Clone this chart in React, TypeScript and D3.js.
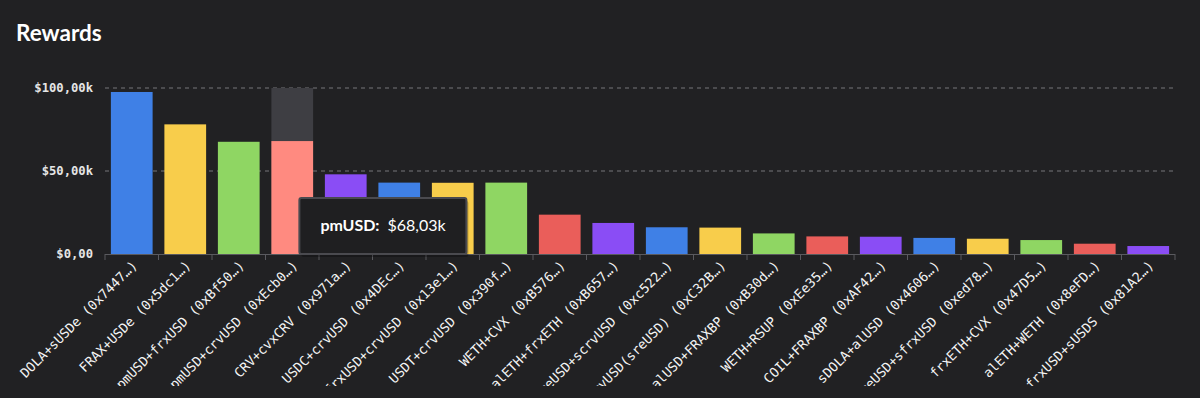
import React from "react";
import * as d3 from "d3";

const categories = [
  "DOLA+sUSDe (0x7447…)",
  "FRAX+USDe (0x5dc1…)",
  "pmUSD+frxUSD (0xBf50…)",
  "pmUSD+crvUSD (0xEcb0…)",
  "CRV+cvxCRV (0x971a…)",
  "USDC+crvUSD (0x4DEc…)",
  "frxUSD+crvUSD (0x13e1…)",
  "USDT+crvUSD (0x390f…)",
  "WETH+CVX (0xB576…)",
  "alETH+frxETH (0xB657…)",
  "reUSD+scrvUSD (0xc522…)",
  "crvUSD(sreUSD) (0xC32B…)",
  "alUSD+FRAXBP (0xB30d…)",
  "WETH+RSUP (0xEe35…)",
  "COIL+FRAXBP (0xAF42…)",
  "sDOLA+alUSD (0x4606…)",
  "reUSD+sfrxUSD (0xed78…)",
  "frxETH+CVX (0x47D5…)",
  "alETH+WETH (0x8eFD…)",
  "frxUSD+sUSDS (0x81A2…)",
];

const rewards = [
  97600, 78100, 67600, 68030, 48000, 43000, 42900, 43000, 23700, 18700,
  16100, 15900, 12400, 10600, 10400, 9700, 9200, 8400, 6200, 4800,
];

const yTicks = [0, 50000, 100000];
const yTickLabels = ["$0,00", "$50,00k", "$100,00k"];

const palette = ["#3f80e6", "#f8cd4b", "#8fd663", "#ea5e5a", "#8a4df5"];
const hoveredIndex = 3;
const hoverColor = "#ff8a80";
const tooltipName = "pmUSD";
const tooltipValue = "$68,03k";

export default function App() {
  const W = 1200;
  const H = 398;
  const chartH = 386;
  const left = 105;
  const right = 1175;
  const top = 88;
  const bottom = 254;

  const x = d3.scaleBand<string>().domain(categories).range([left, right]).paddingInner(0.22).paddingOuter(0.11);
  const y = d3.scaleLinear().domain([0, 100000]).range([bottom, top]);
  const boundaries = d3.range(categories.length + 1).map((i) => left + i * ((right - left) / categories.length));

  const hx = x(categories[hoveredIndex])!;
  const tipX = hx + 28;
  const tipY = 198;

  return (
    <svg
      width={W}
      height={H}
      style={{ position: "fixed", left: 0, top: 0, background: "#212123", display: "block" }}
    >
      <defs>
        <clipPath id="chartClip">
          <rect x={0} y={0} width={W} height={chartH} />
        </clipPath>
      </defs>
      <rect x={0} y={0} width={W} height={H} fill="#212123" />
      <text x={16} y={41} fill="#ffffff" fontFamily="Lato, 'Open Sans', sans-serif" fontWeight={700} fontSize={22.5}>
        Rewards
      </text>

      {yTicks.map((t, i) => (
        <g key={t}>
          {t > 0 && (
            <line x1={left} x2={right} y1={y(t)} y2={y(t)} stroke="#77777b" strokeDasharray="4,4" strokeWidth={1} />
          )}
          <text
            x={93}
            y={y(t)}
            dy="0.35em"
            textAnchor="end"
            fill="#e6e6e6"
            fontFamily="'DejaVu Sans Mono', monospace"
            fontSize={12.2}
            fontWeight={700}
          >
            {yTickLabels[i]}
          </text>
        </g>
      ))}

      <rect x={hx} y={y(100000)} width={x.bandwidth()} height={bottom - y(100000)} fill="#3e3e43" />

      {categories.map((c, i) => (
        <rect
          key={c}
          x={x(c)}
          y={y(rewards[i])}
          width={x.bandwidth()}
          height={bottom - y(rewards[i])}
          fill={i === hoveredIndex ? hoverColor : palette[i % palette.length]}
        />
      ))}

      <line x1={left} x2={right} y1={bottom + 0.5} y2={bottom + 0.5} stroke="#5a5a5f" strokeWidth={1} />
      {boundaries.map((b, i) => (
        <line key={i} x1={b} x2={b} y1={bottom} y2={bottom + 6} stroke="#5a5a5f" strokeWidth={1} />
      ))}

      <g clipPath="url(#chartClip)">
        {categories.map((c) => {
          const cx = x(c)! + x.bandwidth() / 2 + 3;
          const cy = bottom + 9;
          return (
            <text
              key={c}
              transform={`translate(${cx},${cy}) rotate(-45)`}
              textAnchor="end"
              dy="0.35em"
              fill="#f4f4f4"
              fontFamily="'DejaVu Sans Mono', monospace"
              fontSize={13.2}
            >
              {c}
            </text>
          );
        })}
      </g>

      <g>
        <rect x={tipX + 2} y={tipY + 3} width={167} height={56} fill="#000" opacity={0.25} rx={2} />
        <rect x={tipX} y={tipY} width={167} height={56} fill="#1f1f21" stroke="#4a4a4f" strokeWidth={2} rx={2} />
        <text x={tipX + 21} y={tipY + 33} fill="#ffffff" fontFamily="Lato, 'Open Sans', sans-serif" fontSize={16}>
          <tspan fontWeight={700}>{tooltipName}:</tspan>
          <tspan dx={8}>{tooltipValue}</tspan>
        </text>
      </g>
    </svg>
  );
}
